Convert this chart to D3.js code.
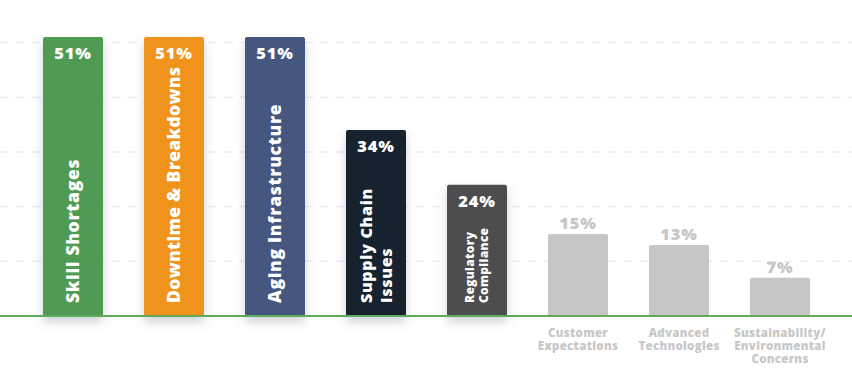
<!DOCTYPE html>
<html>
<head>
<meta charset="utf-8">
<script src="https://cdn.jsdelivr.net/npm/d3@7"></script>
<style>
  body { margin: 0; background: #fff; }
  svg { display: block; font-family: "Open Sans", sans-serif; }
</style>
</head>
<body>
<div id="chart"></div>
<script>
var width = 852;
var height = 380;
var baseY = 316;

// data
var categories = ["Skill Shortages", "Downtime & Breakdowns", "Aging Infrastructure",
  "Supply Chain Issues", "Regulatory Compliance", "Customer Expectations",
  "Advanced Technologies", "Sustainability/ Environmental Concerns"];
var values = [51, 51, 51, 34, 24, 15, 13, 7];
var labelLines = [["Skill Shortages"], ["Downtime & Breakdowns"], ["Aging Infrastructure"],
  ["Supply Chain", "Issues"], ["Regulatory", "Compliance"], ["Customer", "Expectations"],
  ["Advanced", "Technologies"], ["Sustainability/", "Environmental", "Concerns"]];
var barColors = ["#4f9b52", "#f0931f", "#44567f", "#17222f", "#4d4d4f", "#c6c6c6", "#c6c6c6", "#c6c6c6"];
var gridTicks = [10, 20, 30, 40, 50];

var highlighted = 5; // first five bars carry their labels inside

var svg = d3.select("#chart").append("svg")
  .attr("width", width)
  .attr("height", height);

var defs = svg.append("defs");
var shadow = defs.append("filter").attr("id", "shadow")
  .attr("x", "-30%").attr("y", "-10%").attr("width", "160%").attr("height", "130%");
shadow.append("feDropShadow")
  .attr("dx", 0).attr("dy", 6).attr("stdDeviation", 5)
  .attr("flood-color", "#5a6070").attr("flood-opacity", 0.28);

var x = d3.scaleBand()
  .domain(categories)
  .range([22.5, 830.5])
  .paddingInner(0.406)
  .paddingOuter(0.203);

var y = d3.scaleLinear()
  .domain([0, 50])
  .range([baseY, 42.5]);

// dashed grid
svg.append("g").selectAll("line")
  .data(gridTicks)
  .enter().append("line")
  .attr("x1", 0).attr("x2", width)
  .attr("y1", d => y(d)).attr("y2", d => y(d))
  .attr("stroke", "#e9edf1")
  .attr("stroke-width", 1.5)
  .attr("stroke-dasharray", "9,7");

var data = categories.map((c, i) => ({ cat: c, value: values[i], lines: labelLines[i], color: barColors[i], i: i }));

var bars = svg.append("g").selectAll("g.bar")
  .data(data)
  .enter().append("g")
  .attr("class", "bar");

bars.append("rect")
  .attr("x", d => x(d.cat))
  .attr("y", d => y(d.value))
  .attr("width", x.bandwidth())
  .attr("height", d => baseY - y(d.value))
  .attr("rx", 2)
  .attr("fill", d => d.color)
  .attr("filter", d => d.i < highlighted ? "url(#shadow)" : null);

// baseline
svg.append("line")
  .attr("x1", 0).attr("x2", width)
  .attr("y1", baseY).attr("y2", baseY)
  .attr("stroke", "#5ea95c")
  .attr("stroke-width", 2);

// value labels
bars.append("text")
  .attr("x", d => x(d.cat) + x.bandwidth() / 2)
  .attr("y", d => d.i < highlighted ? y(d.value) + 22 : y(d.value) - 5)
  .attr("text-anchor", "middle")
  .attr("font-size", 16.5)
  .attr("font-weight", 800)
  .attr("letter-spacing", 0.8)
  .attr("fill", d => d.i < highlighted ? "#fff" : "#c6c6c6")
  .text(d => d.value + "%");

// rotated category labels inside the bars
var inside = bars.filter(d => d.i < highlighted);
inside.each(function(d) {
  var g = d3.select(this);
  var fs = d.i == 4 ? 12 : (d.lines.length > 1 ? 16 : 17.5);
  var gap = d.i == 4 ? 14 : 20;
  var cx = x(d.cat) + x.bandwidth() / 2;
  var n = d.lines.length;
  // room between the value label and the bottom of the bar
  var room = 303 - (y(d.value) + 30);
  d.lines.forEach(function(line, k) {
    var lx = cx + (k - (n - 1) / 2) * gap + fs * 0.36;
    var t = g.append("text")
      .attr("transform", `translate(${lx}, 303) rotate(-90)`)
      .attr("font-size", fs)
      .attr("font-weight", 800)
      .attr("letter-spacing", d.i == 4 ? 0.3 : 0.7)
      .attr("fill", "#fff")
      .text(line);
    if (t.node().getComputedTextLength() > room) {
      t.attr("letter-spacing", 0).attr("textLength", room).attr("lengthAdjust", "spacing");
    }
  });
});

// category labels under the grey bars
var below = bars.filter(d => d.i >= highlighted);
below.each(function(d) {
  var g = d3.select(this);
  var cx = x(d.cat) + x.bandwidth() / 2;
  d.lines.forEach(function(line, k) {
    g.append("text")
      .attr("x", cx)
      .attr("y", 337 + k * 13)
      .attr("text-anchor", "middle")
      .attr("font-size", 11.5)
      .attr("font-weight", 800)
      .attr("letter-spacing", 0.3)
      .attr("fill", "#c8c8c8")
      .text(line);
  });
});
</script>
</body>
</html>
